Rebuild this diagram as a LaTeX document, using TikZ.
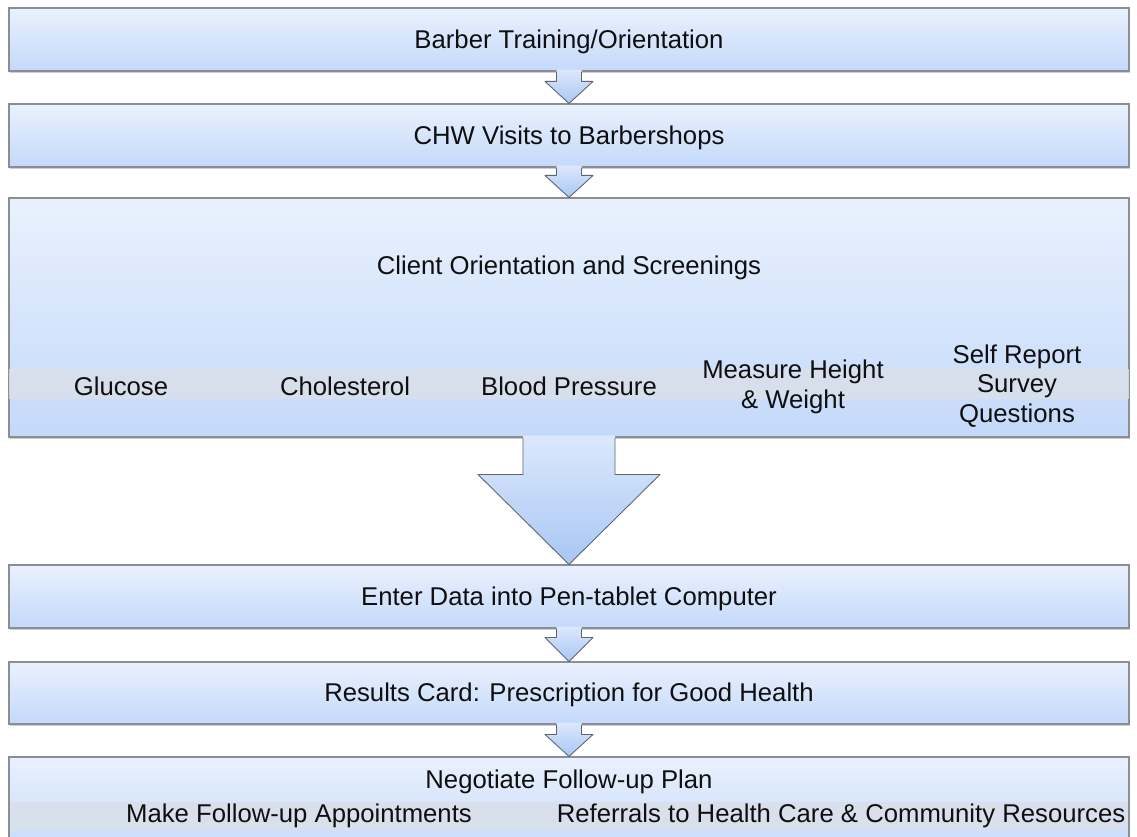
\documentclass[tikz,border=0pt]{standalone}
\usepackage{fontspec}
\setmainfont{Liberation Sans}
\usetikzlibrary{calc,shadows}

\definecolor{boxtop}{RGB}{233,241,253}
\definecolor{boxbot}{RGB}{196,217,250}
\definecolor{boxline}{RGB}{138,143,150}
\definecolor{bandgrey}{RGB}{218,224,234}
\definecolor{arrtop}{RGB}{220,232,252}
\definecolor{arrbot}{RGB}{168,199,244}
\definecolor{arrline}{RGB}{95,102,115}
\definecolor{inktext}{RGB}{15,15,15}

\tikzset{
  flowbox/.style={draw=boxline, line width=1.1pt, top color=boxtop, bottom color=boxbot,
    minimum width=1120, inner sep=0pt, text=inktext,
    drop shadow={shadow xshift=1.2pt, shadow yshift=-2.2pt, opacity=0.35, fill=black!55}},
  label/.style={text=inktext, align=center, inner sep=0pt,
    font=\fontsize{25.7}{29.5}\selectfont},
  arrowfill/.style={top color=arrtop, bottom color=arrbot},
  arrowedge/.style={draw=arrline, line width=0.9pt, line join=round},
}

% downward block arrow: from node, to node, shaft half width, head half width, head length
\newcommand\flowarrow[5]{%
  \shade[arrowfill] ($(#1.south)+(-#3,-2)$) -- ($(#2.north)+(-#3,-#5)$)
    -- ($(#2.north)+(-#4,-#5)$) -- (#2.north) -- ($(#2.north)+(#4,-#5)$)
    -- ($(#2.north)+(#3,-#5)$) -- ($(#1.south)+(#3,-2)$) -- cycle;
  \draw[arrowedge] ($(#1.south)+(-#3,0.5)$) -- ($(#2.north)+(-#3,-#5)$)
    -- ($(#2.north)+(-#4,-#5)$) -- (#2.north) -- ($(#2.north)+(#4,-#5)$)
    -- ($(#2.north)+(#3,-#5)$) -- ($(#1.south)+(#3,0.5)$);
}

\begin{document}
\begin{tikzpicture}[x=1pt, y=-1pt, font=\fontsize{25.7}{29.5}\selectfont]
\useasboundingbox (0,0) rectangle (1137,837);
\clip (0,0) rectangle (1137,837);
\fill[white] (0,0) rectangle (1137,837);

% process boxes
\node[flowbox, minimum height=63] (train) at (569,39.5) {};
\node[label] (trainT) at ($(train.center)+(0,2)$) {Barber Training/Orientation};

\node[flowbox, minimum height=63] (visit) at (569,135.5) {};
\node[label] (visitT) at ($(visit.center)+(0,2)$) {CHW Visits to Barbershops};

\node[flowbox, minimum height=239] (screen) at (569,317.5) {};
\fill[bandgrey, opacity=0.85] ($(screen.west)+(0.6,51.5)$) rectangle ($(screen.east)+(-0.6,81.5)$);
\node[label] (screenT) at (569,268) {Client Orientation and Screenings};
\node[label] (glu) at (121,386) {Glucose};
\node[label] (chol) at (345,386) {Cholesterol};
\node[label] (bp) at (569,386) {Blood Pressure};
\node[label] (hw) at (793,387) {Measure Height\\\& Weight};
\node[label] (srs) at (1017,386) {Self Report\\Survey\\Questions};

\node[flowbox, minimum height=63] (data) at (569,596.5) {};
\node[label] (dataT) at ($(data.center)+(0,2)$) {Enter Data into Pen-tablet Computer};

\node[flowbox, minimum height=62] (card) at (569,693) {};
\node[label] (cardT) at ($(card.center)+(0,2)$) {Results Card: Prescription for Good Health};

\node[flowbox, minimum height=100] (plan) at (569,807) {};
\fill[bandgrey, opacity=0.85] (9.6,802) rectangle (1128.4,830);
\node[label] (planT) at (569,782) {Negotiate Follow-up Plan};
\node[label] (appt) at (299,816) {Make Follow-up Appointments};
\node[label] (refer) at (841,816) {Referrals to Health Care \& Community Resources};

% connecting arrows
\flowarrow{train}{visit}{12.5}{24}{22}
\flowarrow{visit}{screen}{12.5}{24}{22}
\flowarrow{screen}{data}{46}{91}{90}
\flowarrow{data}{card}{12.5}{24}{24}
\flowarrow{card}{plan}{12.5}{24}{22}
\end{tikzpicture}
\end{document}
